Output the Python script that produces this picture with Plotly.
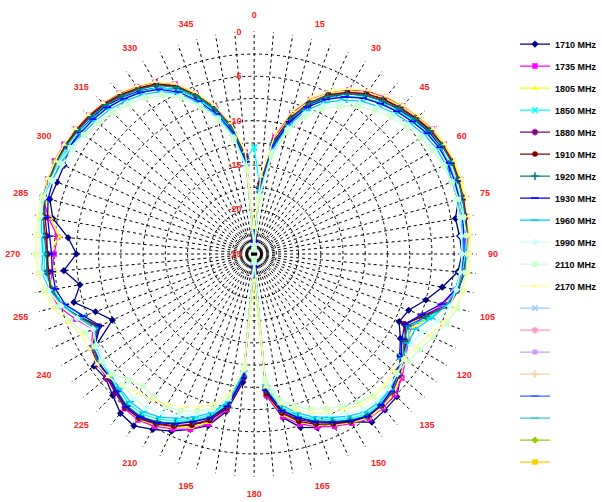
import plotly.graph_objects as go

angles = list(range(0, 360, 5))

series_names = ["1710 MHz", "1735 MHz", "1805 MHz", "1850 MHz", "1880 MHz", "1910 MHz",
                "1920 MHz", "1930 MHz", "1960 MHz", "1990 MHz", "2110 MHz", "2170 MHz"]

s1710 = [-24, -18, -12.8, -9.8, -7.2, -5.5, -4.2, -3.2, -2.5, -2.0,
         -1.5, -1.0, -0.8, -0.9, -1.4, -1.2, -2.0, -1.8, -1.6,
         -2.0, -3.5, -5.0, -6.5, -7.0, -6.0, -5.0, -3.5, -2.3,
         -2.1, -1.9, -3.2, -4.0, -4.2, -4.8, -6.3, -9.0, -24,
         -10.5, -7.0, -5.0, -4.0, -3.0, -2.2, -1.4, -1.6, -2.5,
         -3.2, -3.0, -4.5, -7.4, -6.0, -4.0, -5.1, -3.5, -5.0,
         -4.0, -2.0, -1.2, -1.4, -1.4, -1.0, -1.0, -1.2, -1.4,
         -2.0, -2.6, -3.4, -4.6, -6.3, -8.3, -11, -14.5]
s1735 = [-23, -16.5, -11.5, -8.6, -6.5, -5.0, -3.7, -2.7, -2.0, -1.4,
         -1.0, -0.5, -0.3, -0.3, -0.4, -0.8, -0.7, -1.2, -1.0,
         -1.4, -2.0, -3.0, -4.5, -5.5, -5.0, -4.2, -3.3, -2.6,
         -2.4, -2.4, -3.0, -3.6, -4.3, -5.2, -6.4, -9.0, -23,
         -11, -7.2, -5.2, -4.0, -3.3, -2.6, -2.2, -2.3, -3.0,
         -3.3, -3.5, -3.8, -5.0, -3.6, -2.2, -1.6, -2.2, -2.5,
         -2.8, -1.5, -0.4, -0.3, -0.2, -0.3, -0.5, -0.7, -1.0,
         -1.4, -2.0, -2.7, -3.9, -5.7, -7.8, -10.2, -13.5]
s1805 = [-22.5, -16.8, -11.8, -8.8, -6.6, -5.0, -3.8, -2.8, -2.1, -1.5,
         -1.0, -0.6, -0.3, -0.2, -0.4, -0.5, -0.9, -0.7, -1.1,
         -1.3, -1.8, -2.8, -4.0, -5.3, -5.2, -4.4, -3.5, -2.8,
         -2.5, -2.5, -3.1, -3.8, -4.5, -5.4, -6.6, -9.2, -22,
         -12, -7.6, -5.4, -4.2, -3.5, -2.8, -2.3, -2.6, -3.1,
         -3.6, -3.4, -4.0, -5.2, -3.8, -2.4, -1.5, -2.5, -1.9,
         -3.0, -1.8, -0.6, -0.3, -0.2, -0.4, -0.6, -0.8, -1.1,
         -1.5, -2.1, -2.8, -4.0, -5.8, -7.9, -10.4, -13.8]
s1850 = [-13, -17.5, -12.5, -9.5, -7.3, -5.7, -4.5, -3.5, -2.8, -2.2,
         -1.6, -1.2, -0.9, -0.8, -0.9, -1.0, -1.1, -1.3, -1.2,
         -1.5, -1.9, -2.6, -4.0, -5.8, -5.0, -4.8, -4.0, -3.3,
         -3.0, -3.0, -3.6, -4.4, -5.2, -6.2, -7.5, -10, -24,
         -11.5, -8.0, -6.3, -5.2, -4.3, -3.5, -3.0, -3.0, -3.5,
         -3.8, -4.0, -4.2, -5.6, -4.5, -2.8, -2.0, -1.3, -1.4,
         -1.0, -0.7, -0.3, -0.6, -0.7, -0.8, -1.0, -1.3, -1.6,
         -2.1, -2.7, -3.4, -4.6, -6.4, -8.4, -10.8, -14.2]
s1880 = [-23.5, -17, -12, -9.1, -6.9, -5.2, -4.0, -3.0, -2.3, -1.7,
         -1.2, -0.7, -0.5, -0.4, -0.6, -0.6, -0.8, -0.9, -1.0,
         -1.2, -1.7, -2.6, -4.8, -6.2, -5.4, -4.4, -3.7, -3.0,
         -2.7, -2.7, -3.3, -4.0, -4.8, -5.7, -6.9, -9.4, -23.5,
         -11.2, -7.4, -5.7, -4.6, -3.7, -3.0, -2.5, -2.4, -2.9,
         -3.4, -3.4, -3.9, -5.6, -4.1, -2.6, -1.9, -1.6, -1.8,
         -1.4, -0.9, -0.6, -0.5, -0.4, -0.5, -0.7, -0.9, -1.2,
         -1.7, -2.3, -3.0, -4.2, -6.0, -8.0, -10.5, -14]
s1910 = [-23, -17.2, -12.2, -9.2, -7.0, -5.3, -4.0, -3.0, -2.3, -1.8,
         -1.3, -0.8, -0.5, -0.4, -0.5, -0.7, -0.8, -1.0, -1.1,
         -1.3, -1.7, -2.3, -4.6, -6.4, -5.2, -4.6, -4.3, -3.2,
         -2.8, -2.7, -3.2, -3.9, -4.6, -5.5, -6.8, -9.2, -23,
         -11, -7.4, -5.6, -4.5, -3.6, -2.9, -2.4, -2.5, -3.1,
         -3.5, -3.6, -4.1, -5.8, -4.2, -2.5, -1.7, -1.8, -1.7,
         -1.6, -1.1, -0.6, -0.5, -0.4, -0.5, -0.6, -0.8, -1.1,
         -1.6, -2.2, -2.9, -4.1, -6.0, -8.1, -10.6, -14.1]
s1920 = [-23, -17.4, -12.3, -9.3, -7.0, -5.4, -4.2, -3.2, -2.5, -1.9,
         -1.4, -0.9, -0.6, -0.5, -0.6, -0.7, -0.9, -1.0, -1.1,
         -1.3, -1.7, -2.5, -4.4, -5.9, -5.5, -4.6, -3.9, -3.1,
         -2.8, -2.8, -3.4, -4.2, -5.0, -6.0, -7.2, -9.7, -23,
         -11.2, -7.7, -6.0, -5.0, -4.0, -3.2, -2.7, -2.7, -3.2,
         -3.7, -3.6, -4.1, -5.5, -4.1, -2.6, -1.9, -1.6, -1.6,
         -1.3, -0.9, -0.6, -0.5, -0.5, -0.6, -0.8, -1.0, -1.3,
         -1.8, -2.4, -3.1, -4.3, -6.1, -8.1, -10.6, -14.2]
s1930 = [-23.5, -17.6, -12.6, -9.6, -7.4, -5.8, -4.6, -3.6, -2.9, -2.3,
         -1.8, -1.3, -1.0, -0.9, -1.0, -1.1, -1.2, -1.3, -1.4,
         -1.6, -2.0, -3.2, -5.0, -6.3, -5.8, -4.8, -4.0, -3.2,
         -2.8, -2.7, -3.3, -4.1, -4.9, -5.9, -7.1, -9.6, -23.5,
         -11, -7.6, -5.9, -4.9, -3.9, -3.1, -2.6, -2.6, -3.1,
         -3.6, -3.7, -4.3, -5.9, -4.6, -3.0, -2.3, -2.2, -2.2,
         -1.9, -1.4, -1.0, -0.9, -0.9, -1.0, -1.2, -1.4, -1.7,
         -2.2, -2.8, -3.6, -4.9, -6.7, -8.7, -11.1, -14.6]
s1960 = [-24, -18, -13, -10, -7.8, -6.2, -5.0, -4.0, -3.3, -2.6,
         -2.1, -1.6, -1.3, -1.2, -1.2, -1.3, -1.4, -1.5, -1.5,
         -1.7, -2.0, -2.6, -3.8, -5.0, -5.0, -4.6, -4.0, -3.4,
         -3.2, -3.3, -3.9, -4.7, -5.5, -6.5, -7.8, -10.2, -24,
         -11.8, -8.2, -6.5, -5.5, -4.6, -3.8, -3.3, -3.3, -3.6,
         -3.9, -4.0, -4.4, -5.2, -4.0, -2.6, -1.6, -1.0, -1.2,
         -1.0, -0.6, -0.4, -0.8, -1.0, -1.2, -1.4, -1.7, -2.0,
         -2.5, -3.1, -3.9, -5.1, -6.9, -8.9, -11.4, -15]
s1990 = [-24, -18.4, -13.4, -10.4, -8.2, -6.6, -5.4, -4.3, -3.5, -2.9,
         -2.4, -1.9, -1.6, -1.4, -1.4, -1.5, -1.5, -1.6, -1.6,
         -1.7, -1.9, -2.2, -3.0, -4.2, -4.6, -4.4, -4.0, -3.6,
         -3.5, -3.7, -4.3, -5.1, -5.9, -6.9, -8.1, -10.5, -24,
         -12, -8.6, -6.9, -5.9, -5.0, -4.3, -3.9, -3.9, -4.1,
         -4.2, -4.2, -4.5, -5.0, -3.8, -2.5, -1.5, -0.9, -0.9,
         -0.8, -0.6, -0.5, -0.9, -1.2, -1.5, -1.7, -2.0, -2.3,
         -2.8, -3.4, -4.2, -5.4, -7.2, -9.2, -11.7, -15.2]
s2110 = [-24.5, -18.8, -13.8, -10.8, -8.6, -7.0, -5.8, -4.7, -3.9, -3.2,
         -2.7, -2.2, -1.8, -1.5, -1.3, -1.2, -1.1, -1.0, -1.0,
         -1.1, -1.2, -1.3, -2.0, -2.8, -3.5, -3.9, -4.2, -4.0,
         -4.2, -4.6, -5.2, -5.8, -6.4, -7.3, -8.4, -10.8, -24.5,
         -12.5, -8.5, -7.0, -6.2, -5.5, -5.2, -5.4, -5.6, -5.0,
         -4.0, -4.0, -4.2, -4.0, -3.0, -2.0, -1.0, -0.6, -0.4,
         -0.5, -0.5, -0.4, -0.6, -0.8, -1.1, -1.6, -2.1, -2.5,
         -3.0, -3.6, -4.4, -5.6, -7.4, -9.4, -11.9, -15.4]
s2170 = [-22, -16.2, -11.2, -8.3, -6.2, -4.7, -3.5, -2.5, -1.8, -1.3,
         -0.8, -0.4, -0.2, -0.1, -0.2, -0.3, -0.5, -0.6, -0.7,
         -0.8, -1.0, -1.6, -2.4, -3.3, -4.0, -4.4, -4.6, -4.2,
         -4.0, -4.2, -4.8, -5.4, -6.0, -6.8, -7.9, -10, -22,
         -12, -9.0, -7.5, -6.7, -6.0, -5.5, -5.0, -4.6, -4.0,
         -3.5, -3.4, -3.6, -3.6, -2.6, -1.6, -1.0, -0.6, -0.5,
         -0.4, -0.3, -0.2, -0.2, -0.3, -0.3, -0.4, -0.6, -0.9,
         -1.3, -1.9, -2.6, -3.8, -5.6, -7.6, -10.0, -13.4]

series_values = [s1710, s1735, s1805, s1850, s1880, s1910,
                 s1920, s1930, s1960, s1990, s2110, s2170]

series_colors = ["#000080", "#FF00FF", "#FFFF00", "#00FFFF", "#800080", "#800000",
                 "#008080", "#0000FF", "#00CCFF", "#CCFFFF", "#CCFFCC", "#FFFF99"]
series_symbols = ["diamond", "square", "triangle-up", "x-thin", "asterisk", "circle",
                  "cross-thin", "line-ew", "line-ew", "diamond", "square", "triangle-up"]

blank_colors = ["#99CCFF", "#FF99CC", "#CC99FF", "#FFCC99", "#3366FF", "#33CCCC", "#99CC00", "#FFCC00"]
blank_symbols = ["x-thin", "asterisk", "circle", "cross-thin", "line-ew", "line-ew", "diamond", "square"]

radial_ticks = [-25, -22.5, -20, -17.5, -15, -12.5, -10, -7.5, -5, -2.5, 0]
radial_text = ["-25", "", "-20", "", "-15", "", "-10", "", "-5", "", "0"]
angle_ticks = list(range(0, 360, 5))
angle_text = [str(a) if a % 15 == 0 else "" for a in angle_ticks]

W, H = 602, 502
CX, CY, R = 258, 254, 226

fig = go.Figure()

def marker_for(sym, col, size):
    m = dict(symbol=sym, color=col, size=size)
    if sym in ("x-thin", "asterisk", "cross-thin", "line-ew"):
        m["line"] = dict(color=col, width=1.5)
    else:
        m["line"] = dict(width=0)
    return m

for i, (name, vals, col, sym) in enumerate(zip(series_names, series_values, series_colors, series_symbols)):
    fig.add_trace(go.Scatterpolar(
        r=vals + [vals[0]], theta=angles + [360],
        mode="lines+markers", name=name, legendgroup="g%d" % i,
        line=dict(color=col, width=1.3),
        marker=marker_for(sym, col, 5.5),
    ))

for j, (col, sym) in enumerate(zip(blank_colors, blank_symbols)):
    fig.add_trace(go.Scatterpolar(
        r=[None], theta=[None], mode="lines+markers", name=" ", legendgroup="b%d" % j,
        line=dict(color=col, width=1.3),
        marker=marker_for(sym, col, 5.5),
    ))

red = "#FF2020"
fig.update_layout(
    width=W, height=H,
    margin=dict(l=0, r=0, t=0, b=0),
    paper_bgcolor="white",
    showlegend=True,
    legend=dict(x=523 / W, y=1 - 29.6 / H, xanchor="left", yanchor="top",
                font=dict(family="Liberation Sans, Arial", size=9, color="black", weight="bold"),
                itemwidth=30, bgcolor="rgba(0,0,0,0)", tracegroupgap=3),
    polar=dict(
        domain=dict(x=[(CX - R) / W, (CX + R) / W], y=[(H - CY - R) / H, (H - CY + R) / H]),
        bgcolor="white",
        angularaxis=dict(
            rotation=90, direction="clockwise",
            tickmode="array", tickvals=angle_ticks, ticktext=angle_text,
            showgrid=True, gridcolor="black", griddash="3px,3px", gridwidth=1,
            showline=False, ticks="outside", ticklen=9, tickcolor="rgba(0,0,0,0)",
            tickfont=dict(family="Liberation Sans, Arial", size=9, color=red, weight="bold"),
        ),
        radialaxis=dict(
            range=[-25, 0.05], angle=90, tickangle=90,
            tickmode="array", tickvals=radial_ticks, ticktext=radial_text,
            showgrid=True, gridcolor="black", griddash="3px,3px", gridwidth=1,
            showline=False, ticks="outside", ticklen=9, tickcolor="rgba(0,0,0,0)",
            side="counterclockwise",
            tickfont=dict(family="Liberation Sans, Arial", size=9, color=red, weight="bold"),
        ),
    ),
)

fig.write_html("out.html", config={"displayModeBar": False},
               post_script="document.body.style.margin='0px';")
